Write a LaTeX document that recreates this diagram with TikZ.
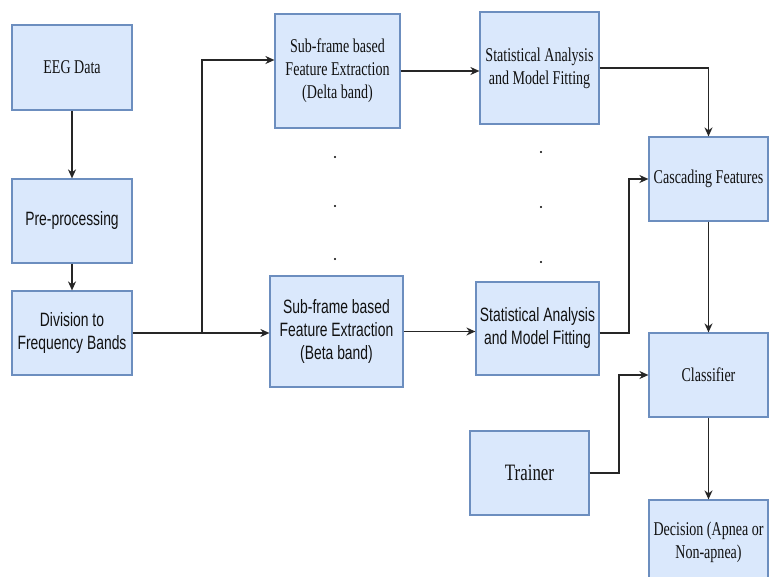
\documentclass[tikz,border=0pt]{standalone}
\usepackage{fontspec}
\usetikzlibrary{arrows.meta}
\newfontfamily\serifc[FakeStretch=0.72]{Liberation Serif}
\newfontfamily\sansc[FakeStretch=0.72]{Liberation Sans}
\definecolor{boxfill}{HTML}{DAE8FC}
\definecolor{boxline}{HTML}{6C8EBF}
\definecolor{txt}{HTML}{111111}
\tikzset{
  box/.style={draw=boxline, fill=boxfill, line width=1.2pt, inner sep=0pt,
    align=center, text=txt},
  sbox/.style={box, font=\serifc\fontsize{19.5}{23}\selectfont},
  abox/.style={box, font=\sansc\fontsize{19.3}{23}\selectfont},
  arr/.style={draw=black!85, line width=1.6pt, -{Stealth[length=9pt,width=8pt]}},
  dotmark/.style={fill=black}
}
\begin{document}
\begin{tikzpicture}[x=1pt,y=-1pt]
\useasboundingbox (0,0) rectangle (771,576);
\clip (0,0) rectangle (771,576);
\fill[white] (0,0) rectangle (771,576);

\node[sbox, minimum width=120pt, minimum height=85pt] (eeg) at (72,67.5) {EEG Data};
\node[abox, minimum width=120pt, minimum height=84pt] (pre) at (72,221) {Pre-processing};
\node[abox, minimum width=120pt, minimum height=84pt] (div) at (72,333) {Division to\\Frequency Bands};

\node[sbox, minimum width=125pt, minimum height=114pt] (delta) at (337.5,71) {Sub-frame based\\Feature Extraction\\(Delta band)};
\node[abox, minimum width=133pt, minimum height=111pt] (beta) at (336.5,331.5) {Sub-frame based\\Feature Extraction\\(Beta band)};

\node[sbox, minimum width=119pt, minimum height=112pt] (statd) at (539.5,68) {Statistical Analysis\\and Model Fitting};
\node[abox, minimum width=123pt, minimum height=93pt] (statb) at (537.5,328.5) {Statistical Analysis\\and Model Fitting};

\node[sbox, minimum width=119pt, minimum height=84pt] (casc) at (708.5,179) {Cascading Features};
\node[sbox, minimum width=119pt, minimum height=84pt] (cls) at (708.5,375) {Classifier};
\node[box, font=\serifc\fontsize{23.5}{27}\selectfont, minimum width=119pt, minimum height=84pt] (trainer) at (529.5,473) {Trainer};
\node[sbox, minimum width=119pt, minimum height=84pt] (dec) at (708.5,542) {Decision (Apnea or\\Non-apnea)};

% dots
\foreach \p in {(335,157),(335,206),(335,259),(541,152),(541,207),(541,262)}
  \fill[dotmark] \p circle (1.1pt);

% connectors
\coordinate (br) at (202,333);
\coordinate (j2) at (629,333);
\coordinate (j3) at (619,473);

\draw[arr] (eeg) -- (pre);
\draw[arr] (pre) -- (div);
\draw[arr] (div.east) -- (div.east -| beta.west);
\draw[arr] (br) |- ([yshift=11pt]delta.west);
\draw[arr] (delta.east) -- (delta.east -| statd.west);
\draw[arr] (statd.east) -| (casc.north);
\draw[arr] (beta.east) -- (beta.east -| statb.west);
\draw[arr] (statb.east |- j2) -- (j2) |- (casc.west);
\draw[arr] (casc) -- (cls);
\draw[arr] (trainer.east) -- (j3) |- (cls.west);
\draw[arr] (cls) -- (dec);
\end{tikzpicture}
\end{document}
